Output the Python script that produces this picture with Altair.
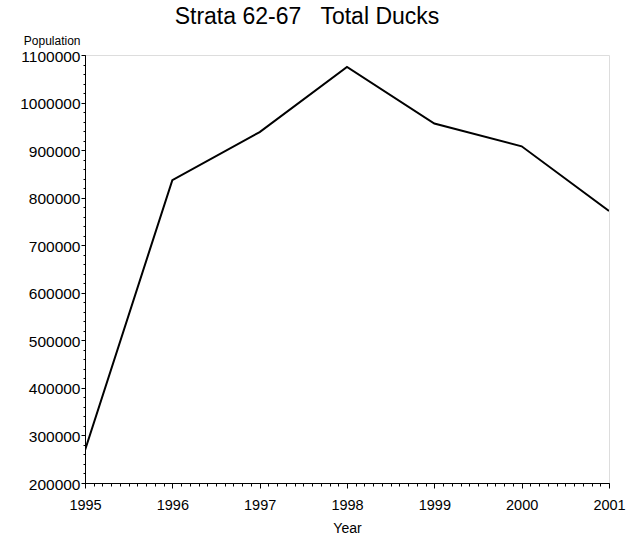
import altair as alt
import pandas as pd

# Survey estimates for strata 62-67
years = [1995, 1996, 1997, 1998, 1999, 2000, 2001]
population = [269000, 837000, 938000, 1075000, 956000, 908000, 772000]

# Axis tick values
year_ticks = [1995, 1996, 1997, 1998, 1999, 2000, 2001]
year_minor = [1995 + i / 10 for i in range(61)]
pop_ticks = [200000, 300000, 400000, 500000, 600000, 700000, 800000, 900000, 1000000, 1100000]
pop_minor = [200000 + i * 20000 for i in range(46)]

df = pd.DataFrame({"Year": years, "Population": population})

FONT = "Liberation Sans"

x_scale = alt.Scale(domain=[1995, 2001], nice=False, zero=False)
y_scale = alt.Scale(domain=[200000, 1100000], nice=False, zero=False)

line = alt.Chart(df).mark_line(color="black", strokeWidth=2, clip=True).encode(
    x=alt.X(
        "Year:Q",
        scale=x_scale,
        axis=alt.Axis(
            values=year_ticks, format="d", title="Year", orient="bottom",
            labelFontSize=14.5, labelFont=FONT, labelColor="black",
            titleFontSize=14, titleFont=FONT, titleFontWeight="normal", titleColor="black",
            tickSize=5, tickColor="black", domainColor="black", grid=False,
            labelPadding=10, titlePadding=10, labelFlush=False,
        ),
    ),
    y=alt.Y(
        "Population:Q",
        scale=y_scale,
        axis=alt.Axis(
            values=pop_ticks, format="d", title="Population", orient="left",
            labelFontSize=15.5, labelFont=FONT, labelColor="black",
            titleFontSize=12, titleFont=FONT, titleFontWeight="normal", titleColor="black",
            titleAngle=0, titleAlign="right", titleBaseline="alphabetic",
            titleX=-5, titleY=-11,
            tickSize=4, tickColor="black", domainColor="black", grid=False,
            labelPadding=1, labelOffset=1, labelFlush=False,
        ),
    ),
)

# Minor tick marks along both axes
minor = alt.Chart(df).mark_line(opacity=0).encode(
    x=alt.X(
        "Year:Q",
        scale=x_scale,
        axis=alt.Axis(
            values=year_minor, labels=False, title=None, orient="bottom",
            tickSize=3, tickColor="black", domain=False, grid=False,
        ),
    ),
    y=alt.Y(
        "Population:Q",
        scale=y_scale,
        axis=alt.Axis(
            values=pop_minor, labels=False, title=None, orient="left",
            tickSize=2, tickColor="black", domain=False, grid=False,
        ),
    ),
)

chart = (
    alt.layer(line, minor)
    .resolve_axis(x="independent", y="independent")
    .properties(
        width=524,
        height=428,
        autosize=alt.AutoSizeParams(type="none"),
        padding={"left": 85, "top": 55, "right": 28, "bottom": 56},
        title=alt.TitleParams(
            text="Strata 62-67\u00a0\u00a0\u00a0Total Ducks",
            font=FONT, fontSize=23, fontWeight="normal", color="black",
            anchor="middle", dx=-40, dy=-1,
        ),
    )
    .configure_view(stroke="black", strokeWidth=1)
    .configure(background="white")
)

chart.save("out.html", embed_options={"renderer": "svg", "actions": False})
